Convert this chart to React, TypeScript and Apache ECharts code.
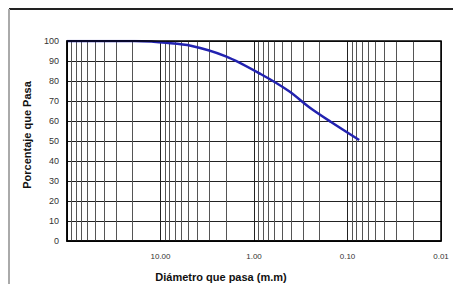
import React, { useEffect, useRef } from "react";
import * as echarts from "echarts";

const sieveSizes = [100, 75, 50, 37.5, 25, 19, 12.5, 9.5, 4.75, 2.0, 0.85, 0.425, 0.25, 0.15, 0.075];
const percentPassing = [100, 100, 100, 100, 100, 100, 99.7, 99.2, 97.6, 92.3, 83.5, 75, 66.5, 59.5, 50.5];
const yTicks = [0, 10, 20, 30, 40, 50, 60, 70, 80, 90, 100];
const xMajors = [0.01, 0.1, 1, 10, 100];
const minorMultipliers = [2, 3, 4, 5, 6, 7, 8, 9];
const xTitle = "Diámetro que pasa (m.m)";
const yTitle = "Porcentaje que Pasa";

const FONT = "Arial, 'Liberation Sans', sans-serif";

export default function App() {
  const ref = useRef<HTMLDivElement>(null);
  useEffect(() => {
    if (!ref.current) return;
    const chart = echarts.init(ref.current, undefined, { renderer: "svg" });
    const minorValues: number[] = [];
    for (let k = 0; k < xMajors.length - 1; k++) {
      for (const m of minorMultipliers) minorValues.push(+(xMajors[k] * m).toPrecision(3));
    }
    const data = sieveSizes.map((s, i) => [s, percentPassing[i]]);
    chart.setOption({
      animation: false,
      backgroundColor: "#ffffff",
      grid: { left: 67, top: 41, width: 374, height: 200, containLabel: false },
      xAxis: {
        type: "log",
        logBase: 10,
        min: 0.01,
        max: 100,
        inverse: true,
        axisLine: { show: true, onZero: false, lineStyle: { color: "#000", width: 1.5 } },
        axisTick: { show: false },
        splitLine: { show: true, lineStyle: { color: "#222", width: 1 } },
        axisLabel: {
          show: true,
          margin: 11,
          fontSize: 8,
          fontFamily: FONT,
          color: "#333",
          formatter: (v: number) => (v >= 100 ? "" : v.toFixed(2)),
        },
      },
      yAxis: {
        type: "value",
        min: yTicks[0],
        max: yTicks[yTicks.length - 1],
        interval: 10,
        axisLine: { show: true, lineStyle: { color: "#000", width: 1.5 } },
        axisTick: { show: false },
        splitLine: { show: true, lineStyle: { color: "#222", width: 1 } },
        axisLabel: { margin: 8, fontSize: 9, fontFamily: FONT, color: "#333" },
      },
      graphic: [
        { type: "line", shape: { x1: 9, y1: 9, x2: 453, y2: 9 }, style: { stroke: "#222", lineWidth: 2 } },
        { type: "line", shape: { x1: 9, y1: 9, x2: 9, y2: 284 }, style: { stroke: "#aaa", lineWidth: 2 } },
        { type: "rect", shape: { x: 67, y: 41, width: 374, height: 200 }, style: { fill: "none", stroke: "#000", lineWidth: 1.5 }, z: 100 },
        {
          type: "text",
          x: 221,
          y: 277,
          style: { text: xTitle, fontSize: 11, fontWeight: "bold", fontFamily: FONT, fill: "#111", align: "center", verticalAlign: "middle" },
        },
        {
          type: "text",
          x: 27,
          y: 135,
          rotation: Math.PI / 2,
          style: { text: yTitle, fontSize: 11, fontWeight: "bold", fontFamily: FONT, fill: "#111", align: "center", verticalAlign: "middle" },
        },
      ],
      series: [
        {
          type: "line",
          data,
          smooth: 0.3,
          symbol: "none",
          lineStyle: { color: "#2222b0", width: 2.5 },
          z: 10,
          markLine: {
            silent: true,
            symbol: "none",
            label: { show: false },
            animation: false,
            lineStyle: { color: "#555", width: 1, type: "solid" },
            data: minorValues.map((v) => ({ xAxis: v })),
            z: 1,
          },
        },
      ],
    });
    return () => chart.dispose();
  }, []);
  return <div ref={ref} style={{ position: "fixed", left: 0, top: 0, width: 453, height: 284 }} />;
}
